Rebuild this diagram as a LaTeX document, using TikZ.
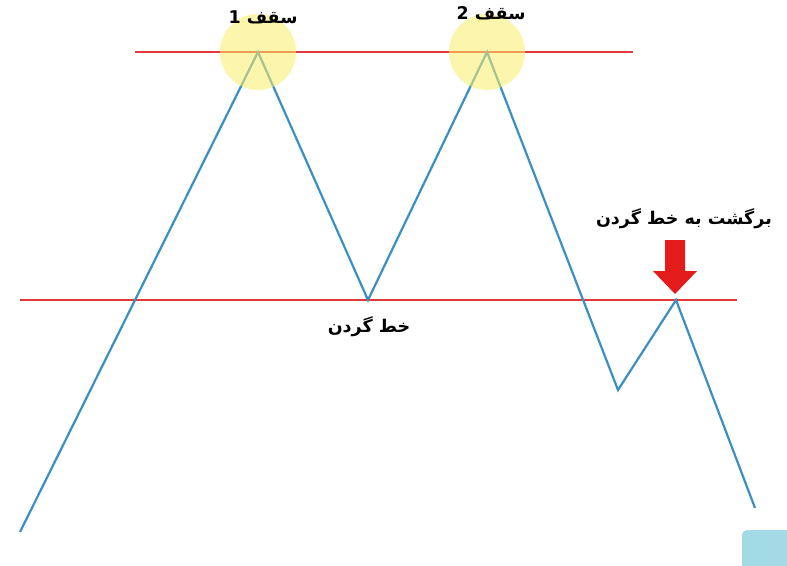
\documentclass[tikz,border=0pt]{standalone}
\usepackage{fontspec}
\TeXXeTstate=1
\newfontfamily\arabicfont[Script=Arabic]{DejaVu Sans}
\usetikzlibrary{arrows.meta}
\definecolor{pricebl}{HTML}{3B8FC2}
\definecolor{levelred}{HTML}{E0383C}
\definecolor{glowy}{HTML}{FBEF6A}
\definecolor{arrowred}{HTML}{E31B1B}
\definecolor{cornerbl}{HTML}{A3DAE6}
\tikzset{
  price/.style={draw=pricebl,line width=2.2pt,line join=miter},
  level/.style={draw=levelred,line width=1.3pt},
  glow/.style={circle,fill=glowy,fill opacity=0.55,minimum size=76pt,inner sep=0pt},
  lbl/.style={font=\arabicfont\bfseries\fontsize{17.5}{20}\selectfont,inner sep=1pt},
  pt/.style={coordinate}
}
\begin{document}
\begin{tikzpicture}[x=1pt,y=-1pt]
\useasboundingbox (0,0) rectangle (787,565);
\fill[white] (0,0) rectangle (787,565);
% levels
\coordinate (t1) at (135,52);
\coordinate (t2) at (633,52);
\coordinate (n1) at (20,300);
\coordinate (n2) at (737,300);
\draw[level] (t1) -- (t2);
\draw[level] (n1) -- (n2);
% price path
\coordinate (s) at (20,532);
\coordinate (p1) at (258,52);
\coordinate (tr) at (368,300);
\coordinate (p2) at (487,52);
\coordinate (lo) at (618,390);
\coordinate (rt) at (676,300);
\coordinate (e) at (755,508);
\draw[price] (s) -- (p1) -- (tr) -- (p2) -- (lo) -- (rt) -- (e);
% glows (over the lines)
\node[glow] (g1) at (258,52) {};
\node[glow] (g2) at (487,52) {};
% red arrow
\fill[arrowred] (665,240) -- (685,240) -- (685,271) -- (697,271) -- (675,294) -- (653,271) -- (665,271) -- cycle;
% labels
\node[lbl] (l1) at (263,17) {\beginR سقف 1\endR};
\node[lbl] (l2) at (491,13) {\beginR سقف 2\endR};
\node[lbl] (l3) at (369,327) {\beginR خط گردن\endR};
\node[lbl,anchor=east] (l4) at (773,219) {\beginR برگشت به خط گردن\endR};
% corner box
\fill[cornerbl,rounded corners=5pt] (742,530) rectangle (800,580);
\end{tikzpicture}
\end{document}
